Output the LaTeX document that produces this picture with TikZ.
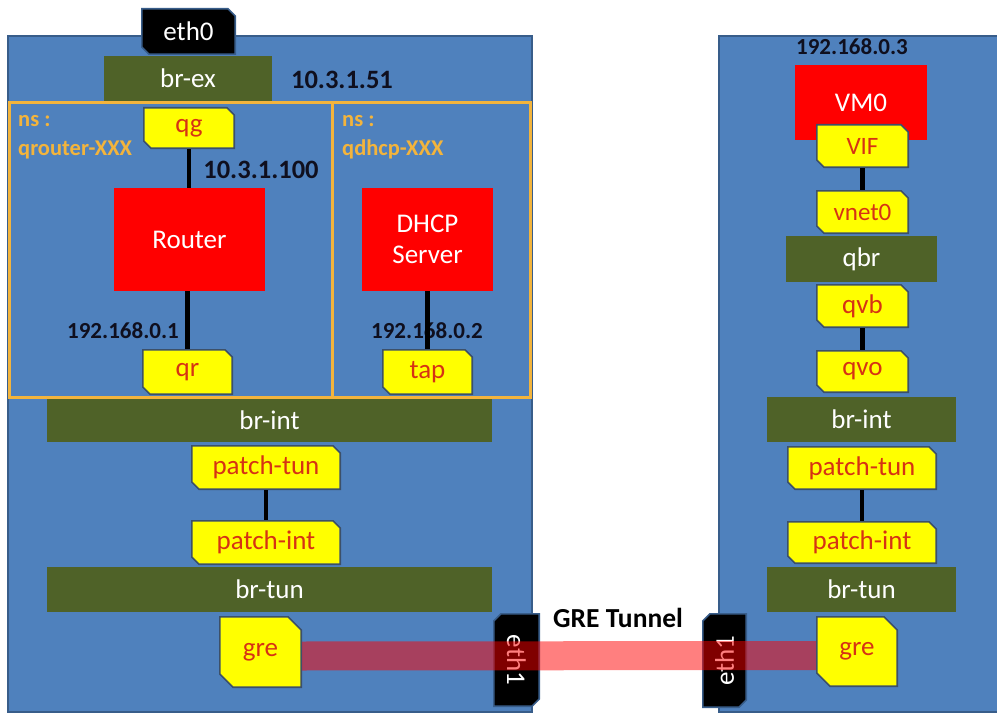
\documentclass[tikz,border=0pt]{standalone}
\usepackage{fontspec}
\usepackage{graphicx}
\setmainfont{Carlito}
\definecolor{panelblue}{RGB}{79,129,189}
\definecolor{panelborder}{RGB}{56,93,138}
\definecolor{olivebar}{RGB}{79,98,40}
\definecolor{portyellow}{RGB}{255,255,0}
\definecolor{portedge}{RGB}{60,80,105}
\definecolor{portred}{RGB}{214,50,20}
\definecolor{nsorange}{RGB}{243,180,60}
\definecolor{boxred}{RGB}{255,0,0}
\definecolor{iptext}{RGB}{15,15,30}
\newcommand\lblfont{\fontsize{27}{29}\selectfont}
\newcommand\smallipfont{\bfseries\fontsize{23}{25}\selectfont}
\newcommand\bigipfont{\bfseries\fontsize{26.5}{28}\selectfont}
\begin{document}
\begin{tikzpicture}[x=1pt,y=-1pt,
  panel/.style={draw=panelborder, line width=2pt, fill=panelblue, inner sep=0pt},
  snipA/.style n args={3}{path picture={
    \path[fill=#1, draw=#2, line width=1.6pt]
      ([xshift=.8pt,yshift=-.8pt]path picture bounding box.north west)
      -- ([xshift=-#3,yshift=-.8pt]path picture bounding box.north east)
      -- ([xshift=-.8pt,yshift=-#3]path picture bounding box.north east)
      -- ([xshift=-.8pt,yshift=.8pt]path picture bounding box.south east)
      -- ([xshift=#3,yshift=.8pt]path picture bounding box.south west)
      -- ([xshift=.8pt,yshift=#3]path picture bounding box.south west)
      -- cycle;}},
  snipB/.style n args={3}{path picture={
    \path[fill=#1, draw=#2, line width=1.6pt]
      ([xshift=#3,yshift=-.8pt]path picture bounding box.north west)
      -- ([xshift=-.8pt,yshift=-.8pt]path picture bounding box.north east)
      -- ([xshift=-.8pt,yshift=#3]path picture bounding box.south east)
      -- ([xshift=-#3,yshift=.8pt]path picture bounding box.south east)
      -- ([xshift=.8pt,yshift=.8pt]path picture bounding box.south west)
      -- ([xshift=.8pt,yshift=-#3]path picture bounding box.north west)
      -- cycle;}},
  port/.style={snipA={portyellow}{portedge}{8pt}, text=portred, font=\lblfont, inner sep=0pt},
  greport/.style={snipA={portyellow}{portedge}{14pt}, text=portred, font=\lblfont, inner sep=0pt},
  ethzero/.style={snipA={black}{panelborder}{8pt}, text=white, font=\lblfont, inner sep=0pt},
  ethone/.style={snipB={black}{panelborder}{8pt}, text=white, font=\lblfont, inner sep=0pt},
  bar/.style={fill=olivebar, text=white, font=\lblfont, inner sep=0pt},
  redbox/.style={fill=boxred, text=white, font=\lblfont, inner sep=0pt, align=center},
  nsbox/.style={draw=nsorange, line width=3pt, inner sep=0pt},
  nslabel/.style={text=nsorange, font=\bfseries\fontsize{22.5}{24}\selectfont, anchor=base west, inner sep=0pt},
  iplabel/.style={text=iptext, font=\smallipfont, inner sep=0pt},
  bigiplabel/.style={text=iptext, font=\bigipfont, inner sep=0pt},
  link/.style={line width=4.5pt, black},
  tunnel/.style={line width=29pt, red, opacity=0.5, line cap=butt}
]
\useasboundingbox (0,0) rectangle (997,717);
\clip (0,0) rectangle (997,717);

% panels
\node[panel, minimum width=524pt, minimum height=676pt] (leftpanel) at (270,374) {};
\node[panel, minimum width=291pt, minimum height=676pt] (rightpanel) at (864.5,374) {};

% left host top
\node[ethzero, minimum width=95pt, minimum height=47pt] (eth0) at (188.5,31.5) {eth0};
\node[bar, minimum width=168pt, minimum height=45pt] (brex) at (188,78.5) {br-ex};
\node[bigiplabel] (ipext) at (342,80) {10.3.1.51};

% namespaces
\node[nsbox, minimum width=323pt, minimum height=294pt] (nsrouter) at (170.5,250) {};
\node[nsbox, minimum width=198pt, minimum height=294pt] (nsdhcp) at (431,250) {};
\node[nslabel] (nsRa) at (18,127) {ns :};
\node[nslabel] (nsRb) at (18,155) {qrouter-XXX};
\node[nslabel] (nsDa) at (342,127) {ns :};
\node[nslabel] (nsDb) at (342,155) {qdhcp-XXX};

\node[port, minimum width=92pt, minimum height=42pt] (qg) at (189,128) {qg};
\node[bigiplabel] (ipgw) at (261,170) {10.3.1.100};
\node[redbox, minimum width=151pt, minimum height=103pt] (router) at (189.5,239.5) {Router};
\node[port, minimum width=91pt, minimum height=46pt] (qr) at (187.5,372) {qr};
\node[iplabel] (iprouter) at (123,331) {192.168.0.1};

\node[redbox, minimum width=131pt, minimum height=103pt, font=\fontsize{27}{31}\selectfont] (dhcp) at (427.5,239.5) {DHCP\\Server};
\node[port, minimum width=91pt, minimum height=46pt] (tap) at (427.5,372) {tap};
\node[iplabel] (ipdhcp) at (427,331) {192.168.0.2};

\draw[link] (qg.south) -- (qg.south |- router.north);
\draw[link] (qr.north |- router.south) -- (qr.north);
\draw[link] (tap.north |- dhcp.south) -- (tap.north);

% left bridges
\node[bar, minimum width=445pt, minimum height=43pt] (brintL) at (269.5,420.5) {br-int};
\node[port, minimum width=150pt, minimum height=45pt] (ptunL) at (266,467.5) {patch-tun};
\node[port, minimum width=150pt, minimum height=45pt] (pintL) at (266,542.5) {patch-int};
\node[bar, minimum width=445pt, minimum height=45pt] (brtunL) at (269.5,589.5) {br-tun};
\node[greport, minimum width=83pt, minimum height=72pt] (greL) at (260.5,652) {gre};
\draw[link] (ptunL) -- (pintL);

% right host
\node[iplabel] (ipvm) at (852,47) {192.168.0.3};
\node[redbox, minimum width=132pt, minimum height=75pt] (vm0) at (861,102.5) {VM0};
\node[port, minimum width=93pt, minimum height=44pt, font=\fontsize{25}{27}\selectfont] (vif) at (862.5,146) {VIF};
\node[port, minimum width=93pt, minimum height=44pt, font=\fontsize{25}{27}\selectfont] (vnet0) at (862.5,212) {vnet0};
\node[bar, minimum width=151pt, minimum height=46pt] (qbr) at (861.5,259) {qbr};
\node[port, minimum width=93pt, minimum height=44pt] (qvb) at (862.5,306) {qvb};
\node[port, minimum width=93pt, minimum height=43pt] (qvo) at (862.5,371.5) {qvo};
\node[bar, minimum width=189pt, minimum height=45pt] (brintR) at (861.5,419.5) {br-int};
\node[port, minimum width=150pt, minimum height=44pt] (ptunR) at (862,468) {patch-tun};
\node[port, minimum width=150pt, minimum height=43pt] (pintR) at (862,542.5) {patch-int};
\node[bar, minimum width=189pt, minimum height=45pt] (brtunR) at (861.5,589.5) {br-tun};
\node[greport, minimum width=82pt, minimum height=71pt] (greR) at (857,651.5) {gre};
\draw[link] (vif) -- (vnet0);
\draw[link] (qvb) -- (qvo);
\draw[link] (ptunR) -- (pintR);

% tunnel
\node[ethone, minimum width=47pt, minimum height=94pt] (eth1L) at (516.5,660) {\rotatebox{-90}{eth1}};
\node[ethone, minimum width=45pt, minimum height=95pt] (eth1R) at (724.5,660.5) {\rotatebox{90}{eth1}};
\node[text=black, font=\bfseries\fontsize{27.5}{29}\selectfont, inner sep=0pt] (gretext) at (618,618) {GRE Tunnel};
\draw[tunnel] ([yshift=-4pt]greL.east) -- ([yshift=-4pt]greR.west);
\end{tikzpicture}
\end{document}
